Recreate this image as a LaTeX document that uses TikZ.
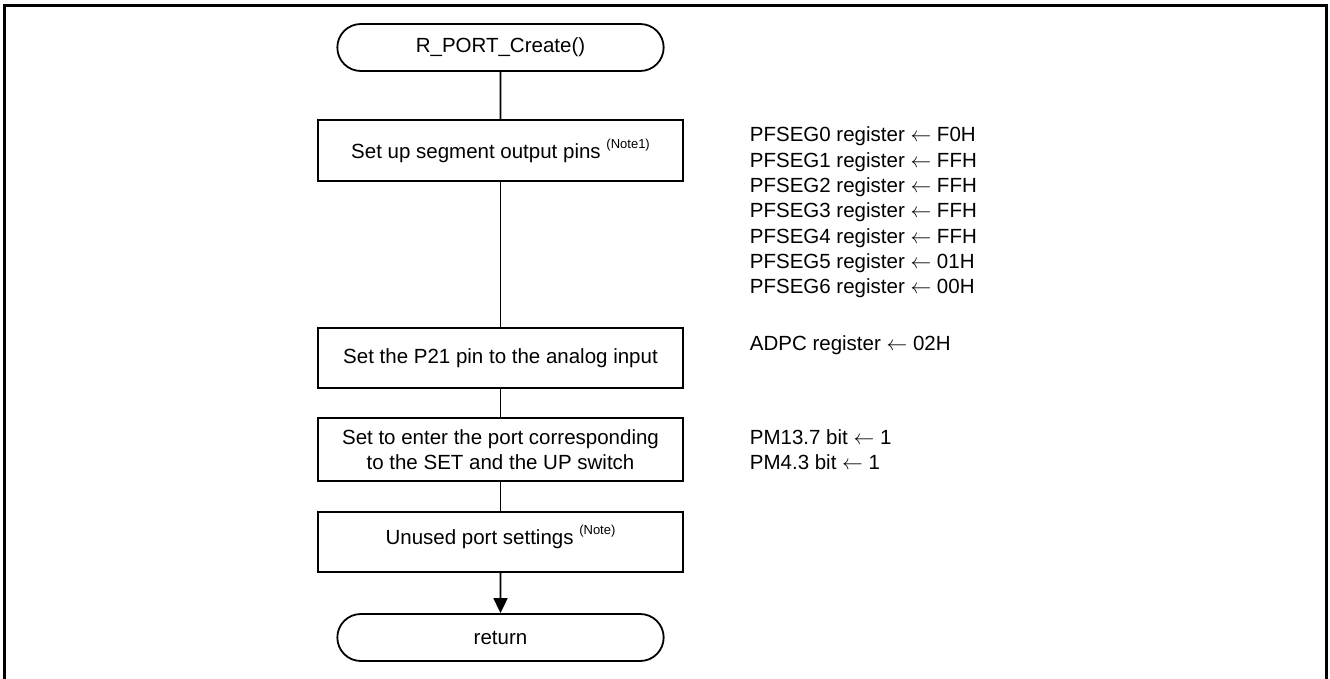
\documentclass[tikz,border=0pt]{standalone}
\usepackage{fontspec}
\setmainfont{Liberation Sans}
\usepackage{tikz}
\usetikzlibrary{shapes,arrows.meta}
\tikzset{fig/.style={
    line width=1.8pt,
    font=\fontsize{20.5}{25.3}\selectfont}}
\tikzset{proc/.style={fig,
    rectangle,
    draw,
    align=center,
    minimum width=365pt}}
\tikzset{term/.style={fig,
    rounded rectangle,
    draw,
    minimum width=333pt,
    minimum height=47pt}}
\tikzset{regs/.style={fig,
    align=left,
    anchor=west,
    inner sep=0pt}}
\newcommand{\notemark}[1]{\raisebox{10pt}{\fontsize{13}{13}\selectfont (#1)}}

\begin{document}
\begin{tikzpicture}[x=1pt, y=-1pt]
  \useasboundingbox (0,0) rectangle (1330,679);
\draw[line width=3pt] (4.5,679) -- (4.5,5.5) -- (1326.5,5.5) -- (1326.5,679);

\coordinate (S) at (500.5,47.5);
\coordinate (P1) at (500.5,150.5);
\coordinate (P2) at (500.5,358);
\coordinate (P3) at (500.5,449.5);
\coordinate (P4) at (500.5,542);
\coordinate (R) at (500.5,637.5);

\node[term] (start) at (S) {R\_PORT\_Create()};

\node[proc,
  minimum height=61pt] (seg) at (P1) {Set up segment output pins \notemark{Note1}};

\node[proc,
  minimum height=60pt] (adc) at (P2) {Set the P21 pin to the analog input};

\node[proc,
  minimum height=63pt] (sw) at (P3) {Set to enter the port corresponding\\to the SET and the UP switch};

\node[proc,
  minimum height=60pt,
  text depth=14pt] (unused) at (P4) {Unused port settings \notemark{Note}};

\node[term] (ret) at (R) {return};

\draw[fig] (start) -- (seg);
\draw[fig] (seg) -- (adc);
\draw[fig] (adc) -- (sw);
\draw[fig] (sw) -- (unused);
\draw[fig, -{Triangle[length=15pt,width=14pt]}] (unused) -- (ret);

% register settings
\node[regs] (segregs) at (749,212.5) {PFSEG0 register $\leftarrow$ F0H\\PFSEG1 register $\leftarrow$ FFH\\PFSEG2 register $\leftarrow$ FFH\\PFSEG3 register $\leftarrow$ FFH\\PFSEG4 register $\leftarrow$ FFH\\PFSEG5 register $\leftarrow$ 01H\\PFSEG6 register $\leftarrow$ 00H};
\node[regs] (adcregs) at (749,345) {ADPC register $\leftarrow$ 02H};
\node[regs] (swregs) at (749,449.5) {PM13.7 bit $\leftarrow$ 1\\PM4.3 bit $\leftarrow$ 1};

\end{tikzpicture}
\end{document}
